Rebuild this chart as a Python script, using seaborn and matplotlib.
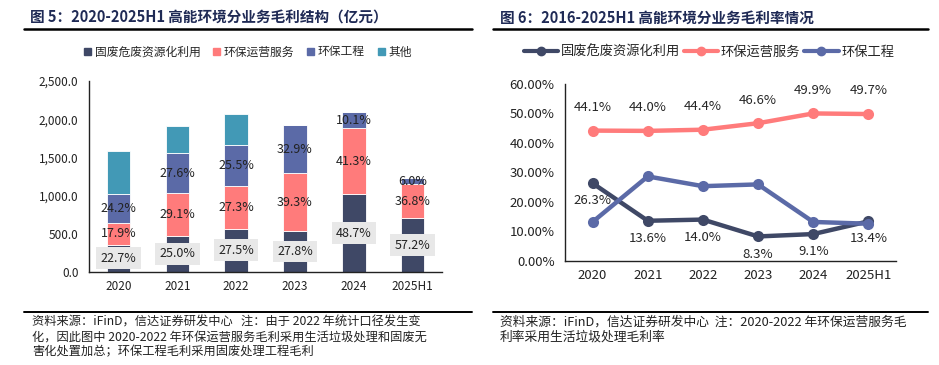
import numpy as np
import pandas as pd
import matplotlib
matplotlib.use("Agg")
import matplotlib.pyplot as plt
import seaborn as sns
from matplotlib.ticker import FuncFormatter
from matplotlib.lines import Line2D
from matplotlib.patches import Patch

sns.set_style("white")
plt.rcParams['font.family'] = ['Noto Sans CJK SC', 'DejaVu Sans']
plt.rcParams['axes.unicode_minus'] = False

# ---------- 数据 ----------
years = ["2020", "2021", "2022", "2023", "2024", "2025H1"]
# 图5 毛利总额及各业务占比
gp_total = [1581, 1908, 2066, 1926, 2092, 1225]
share_solid = [22.7, 25.0, 27.5, 27.8, 48.7, 57.2]
share_ops = [17.9, 29.1, 27.3, 39.3, 41.3, 36.8]
share_eng = [24.2, 27.6, 25.5, 32.9, 10.1, 6.0]
# 图6 毛利率
gm_solid = [26.3, 13.6, 14.0, 8.3, 9.1, 13.4]
gm_ops = [44.1, 44.0, 44.4, 46.6, 49.9, 49.7]
gm_eng = [13.2, 28.6, 25.3, 25.9, 13.2, 12.6]

names = ["固废危废资源化利用", "环保运营服务", "环保工程", "其他"]
c_dark = "#3F4866"
c_red = "#FF7B7B"
c_blue = "#5B6AA7"
c_teal = "#4299B6"
title_color = "#1F2A55"

tot = np.array(gp_total, dtype=float)
v_solid = tot * np.array(share_solid) / 100
v_ops = tot * np.array(share_ops) / 100
v_eng = tot * np.array(share_eng) / 100
v_other = np.clip(tot - v_solid - v_ops - v_eng, 0, None)

fig = plt.figure(figsize=(9.39, 3.65), dpi=100)

# ---------- 左图 ----------
ax1 = fig.add_axes([0.0948, 0.2548, 0.376, 0.523])
bottom = np.zeros(len(years))
segs = [(v_solid, c_dark, share_solid), (v_ops, c_red, share_ops),
        (v_eng, c_blue, share_eng), (v_other, c_teal, None)]
for k, (vals, col, sh) in enumerate(segs):
    sns.barplot(x=years, y=vals, bottom=bottom, color=col, width=0.4, saturation=1,
                edgecolor="white", linewidth=0.6, ax=ax1)
    if sh is not None:
        for i in range(len(years)):
            ymid = bottom[i] + vals[i] / 2
            if k == 0:
                ax1.text(i, ymid, f"{sh[i]:.1f}%", ha="center", va="center", fontsize=9,
                         color="#222222",
                         bbox=dict(boxstyle="square,pad=0.35", fc="#E8E8E8", ec="none"))
            else:
                ax1.text(i, ymid, f"{sh[i]:.1f}%", ha="center", va="center", fontsize=9,
                         color="#222222")
    bottom = bottom + vals

ax1.set_ylim(0, 2500)
ax1.set_yticks(np.arange(0, 2501, 500))
ax1.yaxis.set_major_formatter(FuncFormatter(lambda v, p: f"{v:,.1f}"))
ax1.set_xlim(-0.5, 5.5)

# ---------- 右图 ----------
ax2 = fig.add_axes([0.6017, 0.285, 0.3525, 0.486])
xs = np.arange(len(years))
for vals, col in [(gm_solid, c_dark), (gm_ops, c_red), (gm_eng, c_blue)]:
    sns.lineplot(x=xs, y=vals, color=col, lw=3.2, marker="o", markersize=8,
                 markeredgewidth=0, ax=ax2)
for i in range(len(years)):
    ax2.annotate(f"{gm_ops[i]:.1f}%", (i, gm_ops[i]), xytext=(0, 12),
                 textcoords="offset points", ha="center", va="bottom", fontsize=9.5)
    ax2.annotate(f"{gm_solid[i]:.1f}%", (i, gm_solid[i]), xytext=(0, -8),
                 textcoords="offset points", ha="center", va="top", fontsize=9.5)
ax2.set_ylim(0, 60)
ax2.set_yticks(np.arange(0, 61, 10))
ax2.yaxis.set_major_formatter(FuncFormatter(lambda v, p: f"{v:.2f}%"))
ax2.set_xlim(-0.5, 5.5)
ax2.set_xticks(xs)
ax2.set_xticklabels(years)

for ax, fs in ((ax1, 8.5), (ax2, 9.5)):
    for s in ["top", "right"]:
        ax.spines[s].set_visible(False)
    for s in ["left", "bottom"]:
        ax.spines[s].set_color("#222222")
        ax.spines[s].set_linewidth(1.0)
    ax.set_xlabel("")
    ax.set_ylabel("")
    ax.set_xticks(np.arange(-0.5, 5.6, 1), minor=True)
    ax.tick_params(axis="x", which="major", length=0, pad=6, labelsize=fs, colors="#222222")
    ax.tick_params(axis="x", which="minor", length=4, direction="out", color="#222222")
    ax.tick_params(axis="y", length=4, direction="out", labelsize=fs, colors="#222222")
    ax.grid(False)

# ---------- 图例 ----------
fig.legend(handles=[Patch(color=c, label=n) for c, n in zip([c_dark, c_red, c_blue, c_teal], names)],
           loc="center", bbox_to_anchor=(248 / 939, 1 - 52 / 365), ncol=4, frameon=False,
           fontsize=8.5, handlelength=0.6, handleheight=0.6, handletextpad=0.3,
           columnspacing=1.1)
fig.legend(handles=[Line2D([], [], color=c, lw=3, marker="o", markersize=6, label=n)
                    for c, n in zip([c_dark, c_red, c_blue], names[:3])],
           loc="center", bbox_to_anchor=(709 / 939, 1 - 52 / 365), ncol=3, frameon=False,
           fontsize=9.5, handlelength=2.6, handletextpad=0.2, columnspacing=0.3)

# ---------- 标题与来源 ----------
fig.text(30 / 939, 1 - 18 / 365, "图 5：2020-2025H1 高能环境分业务毛利结构（亿元）",
         fontsize=10.5, fontweight="bold", color=title_color, va="center")
fig.text(500 / 939, 1 - 18 / 365, "图 6：2016-2025H1 高能环境分业务毛利率情况",
         fontsize=10.5, fontweight="bold", color=title_color, va="center")
for x0, x1 in [(24, 472), (493, 928)]:
    fig.add_artist(Line2D([x0 / 939, x1 / 939], [1 - 29 / 365] * 2, color="black", lw=1.8))
    fig.add_artist(Line2D([x0 / 939, x1 / 939], [1 - 312 / 365] * 2, color="black", lw=1.4))

src_left = ["资料来源：iFinD，信达证券研发中心   注：由于 2022 年统计口径发生变",
            "化，因此图中 2020-2022 年环保运营服务毛利采用生活垃圾处理和固废无",
            "害化处置加总；环保工程毛利采用固废处理工程毛利"]
src_right = ["资料来源：iFinD，信达证券研发中心  注：2020-2022 年环保运营服务毛",
             "利率采用生活垃圾处理毛利率"]
for j, line in enumerate(src_left):
    fig.text(32 / 939, 1 - (322 + 15 * j) / 365, line, fontsize=8.8, style="italic",
             color="#222222", va="center")
for j, line in enumerate(src_right):
    fig.text(500 / 939, 1 - (322 + 15 * j) / 365, line, fontsize=9.2, style="italic",
             color="#222222", va="center")

fig.savefig("out.png", dpi=100)
